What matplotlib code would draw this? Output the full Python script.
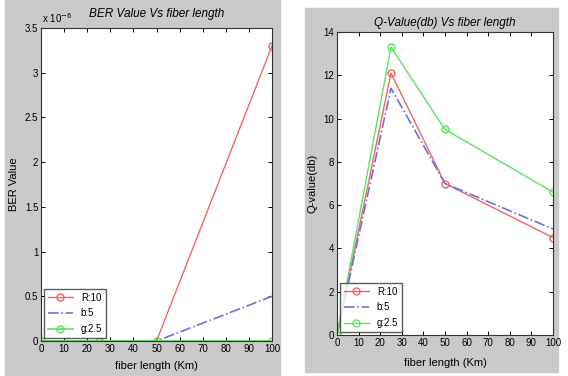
import matplotlib
matplotlib.use('Agg')
import matplotlib.pyplot as plt
from matplotlib.patches import Rectangle

plt.rcParams['font.family'] = ['Liberation Sans Narrow', 'Liberation Sans', 'DejaVu Sans']

fiber_km = [0, 25, 50, 100]
series_names = ['R:10', 'b:5', 'g:2.5']

# BER values in units of 1e-6
ber_r = [0, 0, 0, 3.3]
ber_b = [0, 0, 0, 0.5]
ber_g = [0, 0, 0, 0]

q_r = [0, 12.1, 7.0, 4.5]
q_b = [0, 11.4, 7.0, 4.9]
q_g = [0, 13.3, 9.5, 6.6]

red = '#f06464'
blue = '#7070d8'
green = '#5fe25f'
gray = '#c9c9c9'


def style_axes(ax):
    ax.tick_params(direction='in', top=True, right=True, labelsize=7, length=3, width=0.7, pad=2)
    for s in ax.spines.values():
        s.set_linewidth(0.8)
        s.set_color('#333333')
    ax.set_xlim(0, 100)
    ax.set_xticks(range(0, 101, 10))


def main():
    fig = plt.figure(figsize=(5.68, 3.76), dpi=100)
    W, H = 568, 376
    fig.patches.append(Rectangle((5 / W, 0), 275 / W, 1, transform=fig.transFigure, color=gray, zorder=-10))
    fig.patches.append(Rectangle((305 / W, 1 - 372 / H), 253 / W, 364 / H, transform=fig.transFigure,
                                 color=gray, zorder=-10))

    ax1 = fig.add_axes([0.0722, 0.0931, 0.4067, 0.8324])
    ax1.plot(fiber_km, ber_r, '-o', color=red, lw=1, ms=5, mfc='none', label=series_names[0])
    ax1.plot(fiber_km, ber_b, '-.', color=blue, lw=1.2, label=series_names[1])
    ax1.plot(fiber_km, ber_g, '-o', color=green, lw=1.2, ms=5, mfc='none', label=series_names[2])
    style_axes(ax1)
    ax1.set_ylim(0, 3.5)
    ax1.set_yticks([0, 0.5, 1, 1.5, 2, 2.5, 3, 3.5])
    ax1.set_yticklabels(['0', '0.5', '1', '1.5', '2', '2.5', '3', '3.5'])
    ax1.text(0.005, 1.01, r'x 10$^{-6}$', transform=ax1.transAxes, fontsize=7, va='bottom')
    ax1.set_title('BER Value Vs fiber length', fontsize=8.5, style='italic', pad=8)
    ax1.set_xlabel('fiber length (Km)', fontsize=8, labelpad=5)
    ax1.set_ylabel('BER Value', fontsize=8, labelpad=4)
    ax1.legend(loc='lower left', fontsize=7, frameon=True, fancybox=False, edgecolor='#333333',
               handlelength=2.6, borderpad=0.4, labelspacing=0.6, borderaxespad=0.3)

    ax2 = fig.add_axes([0.5933, 0.1090, 0.3803, 0.8059])
    ax2.plot(fiber_km, q_r, '-o', color=red, lw=1, ms=5, mfc='none', label=series_names[0])
    ax2.plot(fiber_km, q_b, '-.', color=blue, lw=1.2, label=series_names[1])
    ax2.plot(fiber_km, q_g, '-o', color=green, lw=1, ms=5, mfc='none', label=series_names[2])
    style_axes(ax2)
    ax2.set_ylim(0, 14)
    ax2.set_yticks(range(0, 15, 2))
    ax2.set_title('Q-Value(db) Vs fiber length', fontsize=8.5, style='italic', pad=4)
    ax2.set_xlabel('fiber length (Km)', fontsize=8, labelpad=7)
    ax2.set_ylabel('Q-value(db)', fontsize=8, labelpad=4)
    ax2.legend(loc='lower left', fontsize=7, frameon=True, fancybox=False, edgecolor='#333333',
               handlelength=2.6, borderpad=0.4, labelspacing=0.6, borderaxespad=0.3)

    fig.savefig('out.png', dpi=100)


if __name__ == '__main__':
    main()
